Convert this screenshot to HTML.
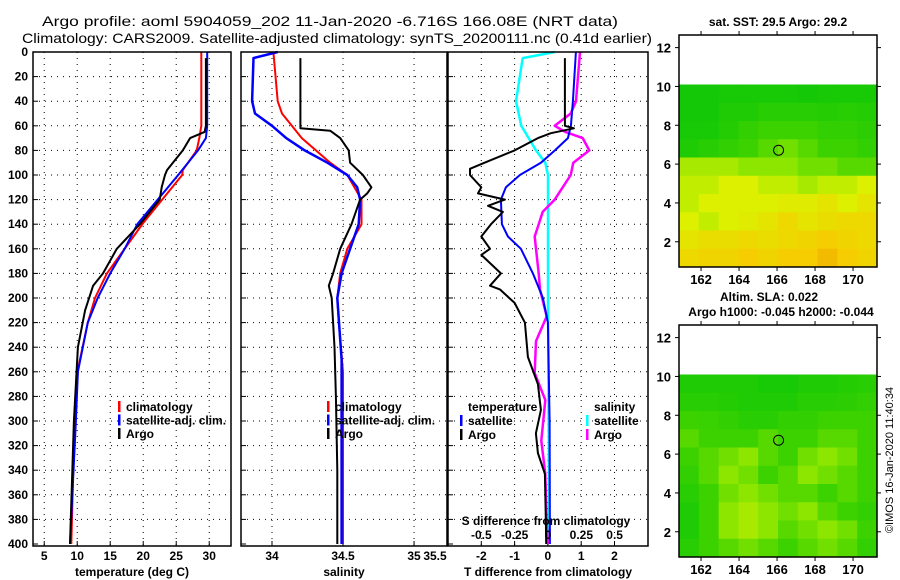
<!DOCTYPE html>
<html><head><meta charset="utf-8"><style>
body{margin:0;background:#fff;}
svg{display:block;font-family:"Liberation Sans",sans-serif;}
text{font-weight:bold;font-size:12px;fill:#000;}
</style></head><body>
<svg id="fig" width="900" height="580" viewBox="0 0 900 580" xmlns="http://www.w3.org/2000/svg">
<text x="42" y="26" textLength="576" lengthAdjust="spacingAndGlyphs" style="font-size:14px;font-weight:normal">Argo profile: aoml 5904059_202 11-Jan-2020 -6.716S 166.08E (NRT data)</text>
<text x="22" y="43" textLength="630" lengthAdjust="spacingAndGlyphs" style="font-size:14px;font-weight:normal">Climatology: CARS2009. Satellite-adjusted climatology: synTS_20200111.nc (0.41d earlier)</text>
<text x="778" y="26" text-anchor="middle">sat. SST: 29.5 Argo: 29.2</text>
<text x="769" y="301" text-anchor="middle">Altim. SLA: 0.022</text>
<text x="781" y="316" text-anchor="middle">Argo h1000: -0.045 h2000: -0.044</text>
<text transform="translate(893,460) rotate(-90)" text-anchor="middle" style="font-weight:normal;font-size:11px">©IMOS 16-Jan-2020 11:40:34</text>
<g id="layer"></g>
</svg>
<script>
// ---- data ----
const depthTicks=[0,20,40,60,80,100,120,140,160,180,200,220,240,260,280,300,320,340,360,380,400];
const tempTicks=[5,10,15,20,25,30];
const salTicks=[34,34.5,35,35.5];
const tdiffTicks=[-2,-1,0,1,2];
const sdiffTicks=[-0.5,-0.25,0,0.25,0.5];
const sdiffTickLabels=["-0.5","-0.25","0","0.25","0.5"];

const tempClimD=[0,60,70,80,96,100,139,180,200,220,258,318,400];
const tempClimV=[28.8,28.8,28.5,28.1,26.0,25.9,20.0,14.5,12.7,11.6,10.1,9.5,9.1];
const tempSatD=[0,60,70,80,100,140,160,180,200,220,260,300,400];
const tempSatV=[29.7,29.7,29.5,28.3,25.3,19.1,17.2,15.0,13.1,11.6,10.1,9.8,8.9];
const tempArgoD=[5,60,65,70,80,96,100,110,120,140,160,180,190,210,240,300,400];
const tempArgoV=[29.5,29.5,29.3,27.1,26.0,23.6,23.3,22.8,22.5,19.5,16.0,13.9,12.4,11.2,10.1,9.5,8.9];

const salClimD=[0,40,50,70,90,100,120,140,160,180,200,220,260,300,400];
const salClimV=[34.01,34.04,34.07,34.21,34.41,34.53,34.63,34.63,34.53,34.48,34.46,34.47,34.5,34.5,34.5];
const salSatD=[0,5,40,50,60,70,80,90,100,110,120,140,160,180,200,250,400];
const salSatV=[34.04,33.87,33.86,33.88,34.0,34.1,34.23,34.39,34.53,34.6,34.62,34.61,34.55,34.49,34.46,34.49,34.49];
const salArgoD=[5,62,64,70,80,90,100,110,115,120,140,160,180,190,200,240,280,340,400];
const salArgoV=[34.2,34.2,34.41,34.48,34.54,34.55,34.64,34.7,34.67,34.62,34.56,34.48,34.43,34.4,34.42,34.44,34.45,34.46,34.46];

const sSatD=[0,5,40,60,80,90,100,200,300,400];
const sSatV=[0.05,-0.19,-0.24,-0.2,-0.09,-0.02,0,0,0.005,0.01];
const tSatD=[0,40,60,70,80,90,100,110,120,140,150,160,180,200,220,300,400];
const tSatV=[0.84,0.75,0.69,0.6,0.21,-0.21,-0.84,-1.26,-1.41,-1.38,-1.2,-0.81,-0.45,-0.15,0,0.05,0.06];
const sArgoD=[0,40,50,60,65,70,80,90,100,110,120,130,140,150,160,180,193,215,235,261,283,316,343,383,400];
const sArgoV=[0.24,0.21,0.17,0.05,0.13,0.26,0.31,0.19,0.17,0.11,0.05,-0.04,-0.07,-0.1,-0.09,-0.07,-0.06,-0.01,-0.09,-0.1,-0.02,-0.05,-0.02,-0.01,0];
const tArgoD=[5,60,62,66,70,80,90,95,100,110,115,120,125,130,140,150,160,165,180,190,193,204,220,248,270,291,310,326,343,383,400];
const tArgoV=[0.51,0.51,0.78,0.09,-0.3,-1.0,-1.9,-2.34,-2.34,-2.0,-2.1,-1.29,-1.8,-1.35,-1.71,-2.0,-1.74,-2.0,-1.41,-1.74,-1.44,-1.0,-0.69,-0.6,-0.3,-0.21,-0.36,-0.3,-0.09,-0.06,-0.05];

const latTicks=[2,4,6,8,10,12];
const lonTicks=[162,164,166,168,170];
const argoLon=166.08, argoLat=6.716;
const sstGrid=[
[0.1,0.1,0.12,0.12,0.12,0.12,0.1,0.12,0.12,0.12],
[0.1,0.1,0.15,0.15,0.2,0.2,0.2,0.18,0.2,0.18],
[0.12,0.12,0.18,0.25,0.3,0.3,0.3,0.25,0.25,0.22],
[0.15,0.2,0.25,0.3,0.35,0.4,0.35,0.3,0.3,0.25],
[0.5,0.5,0.5,0.45,0.45,0.45,0.4,0.4,0.35,0.35],
[0.55,0.55,0.6,0.6,0.55,0.55,0.5,0.55,0.55,0.6],
[0.55,0.6,0.6,0.6,0.6,0.62,0.62,0.65,0.6,0.65],
[0.6,0.55,0.6,0.62,0.65,0.7,0.65,0.68,0.7,0.7],
[0.65,0.68,0.68,0.7,0.68,0.7,0.72,0.75,0.72,0.7],
[0.7,0.72,0.72,0.75,0.72,0.75,0.75,0.8,0.75,0.72]];
const slaGrid=[
[.15,.15,.15,.15,.12,.12,.15,.15,.18,.2],
[.2,.2,.18,.15,.15,.15,.2,.2,.22,.25],
[.3,.28,.25,.2,.2,.25,.25,.3,.3,.3],
[.35,.3,.3,.3,.35,.3,.3,.35,.35,.3],
[.3,.35,.4,.45,.35,.3,.4,.45,.4,.3],
[.25,.35,.45,.4,.3,.35,.45,.4,.35,.3],
[.2,.3,.4,.45,.4,.35,.35,.3,.35,.3],
[.15,.3,.45,.5,.45,.4,.45,.35,.3,.25],
[.15,.3,.45,.5,.45,.35,.4,.45,.4,.3],
[.2,.3,.35,.4,.35,.3,.35,.4,.35,.25]];

// ---- drawing ----
const NS="http://www.w3.org/2000/svg";
const L=document.getElementById('layer');
function mk(tag,attrs,parent){const e=document.createElementNS(NS,tag);for(const k in attrs)e.setAttribute(k,attrs[k]);(parent||L).appendChild(e);return e;}
const Y0=52,YS=1.23;
const yD=d=>Y0+d*YS;
const panels=[
 {name:'temperature',x0:33,x1:231,v0:3.3,v1:33.3,ticks:tempTicks,labels:tempTicks.map(String),title:'temperature (deg C)'},
 {name:'salinity',x0:241,x1:447,v0:33.7817,v1:35.232,ticks:salTicks,labels:salTicks.map(String),title:'salinity'},
 {name:'difference',x0:448,x1:648,v0:-3.0,v1:3.006,ticks:tdiffTicks,labels:tdiffTicks.map(String),title:'T difference from climatology'}];
panels.forEach(p=>{p.sx=v=>p.x0+(v-p.v0)/(p.v1-p.v0)*(p.x1-p.x0);});
const sdx=v=>548+v*133.3;

panels.forEach((p,i)=>{
 const g=mk('g',{});
 
 
 depthTicks.forEach(d=>{
  if(d>0&&d<400){const l=mk('line',{x1:p.x0,x2:p.x1,y1:yD(d),y2:yD(d),stroke:'#000','stroke-width':1,'stroke-dasharray':'1 5'},g);
   }
  mk('line',{x1:p.x0,x2:p.x0+5,y1:yD(d),y2:yD(d),stroke:'#000'},g);
  if(i===0){const t=mk('text',{x:28,y:yD(d)+4,'text-anchor':'end'},g);t.textContent=d;
   }
 });
 p.ticks.forEach((v,k)=>{
  const x=p.sx(v);
  if(x>p.x0+2&&x<p.x1-2){const l=mk('line',{x1:x,x2:x,y1:Y0,y2:546,stroke:'#000','stroke-dasharray':'1 5'},g);
   
   mk('line',{x1:x,x2:x,y1:546,y2:541,stroke:'#000'},g);}
  let tx=x; if(tx>p.x1-8) tx=p.x1-12;
  const t=mk('text',{x:tx,y:560,'text-anchor':'middle'},g);t.textContent=p.labels[k];
  
 });
 const tt=mk('text',{x:(p.x0+p.x1)/2,y:576,'text-anchor':'middle'},g);tt.textContent=p.title;
 
});

function line(D,V,sx,color,w,name){
 const pts=D.map((d,k)=>sx(V[k]).toFixed(1)+','+yD(d).toFixed(1)).join(' ');
 const e=mk('polyline',{points:pts,fill:'none',stroke:color,'stroke-width':w,'stroke-linejoin':'round'});
 
 
}
const P=panels;
line(tempClimD,tempClimV,P[0].sx,'#f00',2,'temp-climatology-line');
line(tempSatD,tempSatV,P[0].sx,'#00f',2,'temp-satellite-line');
line(tempArgoD,tempArgoV,P[0].sx,'#000',2,'temp-argo-line');
line(salClimD,salClimV,P[1].sx,'#f00',2,'sal-climatology-line');
line(salSatD,salSatV,P[1].sx,'#00f',2.5,'sal-satellite-line');
line(salArgoD,salArgoV,P[1].sx,'#000',2,'sal-argo-line');
line(sSatD,sSatV,sdx,'#0ff',2.5,'sdiff-satellite-line');
line(sArgoD,sArgoV,sdx,'#f0f',2.5,'sdiff-argo-line');
line(tSatD,tSatV,P[2].sx,'#00f',2,'tdiff-satellite-line');
line(tArgoD,tArgoV,P[2].sx,'#000',2,'tdiff-argo-line');

// S diff axis inside panel 3
const sl=mk('text',{x:546,y:525,'text-anchor':'middle'});sl.textContent='S difference from climatology';

sdiffTicks.forEach((v,k)=>{const t=mk('text',{x:sdx(v),y:539,'text-anchor':'middle'});t.textContent=sdiffTickLabels[k];
 });

// frames
panels.forEach(p=>{const r=mk('rect',{x:p.x0,y:Y0,width:p.x1-p.x0,height:546-Y0,fill:'none',stroke:'#000','stroke-width':1.5});
 });

// legends
function legend(x,y,color,label,name){
 const g=mk('g',{});
 mk('rect',{x:x,y:y-10,width:2.5,height:11,fill:color},g);
 const t=mk('text',{x:x+8,y:y},g);t.textContent=label;
}
[[118,'#f00','climatology'],[118,'#00f','satellite-adj. clim.'],[118,'#000','Argo']].forEach((a,k)=>{
 legend(a[0],411+k*13.5,a[1],a[2],'temp-legend-entry');
 legend(327,411+k*13.5,a[1],a[2],'sal-legend-entry');});
const lt=mk('text',{x:468,y:411});lt.textContent='temperature';
const ls=mk('text',{x:594,y:411});ls.textContent='salinity';
legend(460,425,'#00f','satellite','tdiff-legend-satellite');
legend(460,439,'#000','Argo','tdiff-legend-argo');
legend(586,425,'#0ff','satellite','sdiff-legend-satellite');
legend(586,439,'#f0f','Argo','sdiff-legend-argo');

// maps
const stops=[[0,[0,195,10]],[0.3,[60,210,0]],[0.45,[140,230,0]],[0.6,[220,240,0]],[0.75,[245,205,0]],[0.9,[235,150,0]],[1,[180,20,0]]];
function cmap(v){for(let i=1;i<stops.length;i++){if(v<=stops[i][0]){const a=stops[i-1],b=stops[i];const t=(v-a[0])/(b[0]-a[0]);
 return 'rgb('+a[1].map((c,j)=>Math.round(c+(b[1][j]-c)*t)).join(',')+')';}}return 'rgb(180,20,0)';}
function drawMap(top,bottom,grid,name){
 const x0=679,x1=877,lon0=160.84,lon1=171.26;
 const lat0=0.7,lat1=12.65;
 const lx=lo=>x0+(lo-lon0)/(lon1-lon0)*(x1-x0);
 const ly=la=>bottom-(la-lat0)/(lat1-lat0)*(bottom-top);
 const g=mk('g',{});
 const rows=grid.length,cols=grid[0].length,latTop=10.1;
 grid.forEach((row,r)=>row.forEach((v,c)=>{
  const la1=latTop-(latTop-lat0)*r/rows,la2=latTop-(latTop-lat0)*(r+1)/rows;
  const lo1=lon0+(lon1-lon0)*c/cols,lo2=lon0+(lon1-lon0)*(c+1)/cols;
  const cell=mk('rect',{x:lx(lo1),y:ly(la1),width:lx(lo2)-lx(lo1)+0.5,height:ly(la2)-ly(la1)+0.5,fill:cmap(v)},g);
  
  
 }));
 const c=mk('circle',{cx:lx(argoLon),cy:ly(argoLat),r:5,fill:'none',stroke:'#000','stroke-width':1},g);
 
 mk('rect',{x:x0,y:top,width:x1-x0,height:bottom-top,fill:'none',stroke:'#000','stroke-width':1.5},g);
 latTicks.forEach(la=>{const y=ly(la);mk('line',{x1:x0-4,x2:x0,y1:y,y2:y,stroke:'#000'},g);mk('line',{x1:x1,x2:x1+4,y1:y,y2:y,stroke:'#000'},g);
  const t=mk('text',{x:x0-8,y:y+5,'text-anchor':'end',style:'font-size:13px'},g);t.textContent=la;
  });
 lonTicks.forEach(lo=>{const x=lx(lo);mk('line',{x1:x,x2:x,y1:top-4,y2:top,stroke:'#000'},g);mk('line',{x1:x,x2:x,y1:bottom,y2:bottom+4,stroke:'#000'},g);
  const t=mk('text',{x:x,y:bottom+17,'text-anchor':'middle',style:'font-size:13px'},g);t.textContent=lo;
  });
}
drawMap(35,267,sstGrid,'sst-map');
drawMap(325,557,slaGrid,'sla-map');
</script>
</body></html>
